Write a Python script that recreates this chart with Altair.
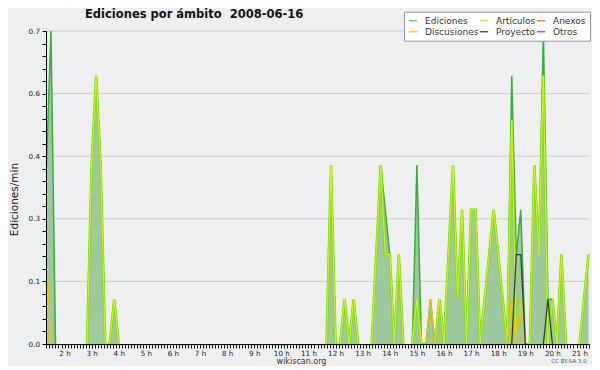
import altair as alt
import pandas as pd
import numpy as np

TITLE = "Ediciones por ámbito\u00a0 2008-06-16"
Y_TITLE = "Ediciones/min"
X_TITLE = "wikiscan.org"
LICENSE = "CC BY-SA 3.0"

SERIES = ["Ediciones", "Artículos", "Anexos", "Discusiones", "Proyecto", "Otros"]
LEGEND_COLORS = ["#7acc7a", "#c8ec3c", "#f08050", "#ffcc33", "#555555", "#9955ee"]

# 10-minute samples from 01:20 to 21:20 (edits per minute)
START_MIN = 80
STEP_MIN = 10

ediciones = [
    0.4, 0.7, 0, 0, 0, 0, 0, 0, 0, 0,
    0.4, 0.6, 0.4, 0, 0, 0.1, 0, 0, 0, 0,
    0, 0, 0, 0, 0, 0, 0, 0, 0, 0,
    0, 0, 0, 0, 0, 0, 0, 0, 0, 0,
    0, 0, 0, 0, 0, 0, 0, 0, 0, 0,
    0, 0, 0, 0, 0, 0, 0, 0, 0, 0,
    0, 0, 0, 0.4, 0, 0, 0.1, 0, 0.1, 0,
    0, 0, 0, 0.2, 0.4, 0.3, 0.2, 0, 0.2, 0,
    0, 0, 0.4, 0, 0, 0.1, 0, 0.1, 0, 0.2,
    0.4, 0.1, 0.3, 0, 0.3, 0.3, 0, 0.1, 0.2, 0.3,
    0.2, 0.1, 0, 0.6, 0.2, 0.3, 0, 0, 0.4, 0.2,
    0.7, 0.1, 0.1, 0, 0.2, 0, 0, 0, 0, 0.1,
    0.2,
]
articulos = [
    0, 0, 0, 0, 0, 0, 0, 0, 0, 0,
    0.4, 0.6, 0.4, 0, 0, 0.1, 0, 0, 0, 0,
    0, 0, 0, 0, 0, 0, 0, 0, 0, 0,
    0, 0, 0, 0, 0, 0, 0, 0, 0, 0,
    0, 0, 0, 0, 0, 0, 0, 0, 0, 0,
    0, 0, 0, 0, 0, 0, 0, 0, 0, 0,
    0, 0, 0, 0.4, 0, 0, 0.1, 0, 0.1, 0,
    0, 0, 0, 0.2, 0.4, 0.2, 0.2, 0, 0.2, 0,
    0, 0, 0.1, 0, 0, 0, 0, 0.1, 0, 0.2,
    0.4, 0.1, 0.3, 0, 0.3, 0.3, 0, 0.1, 0.2, 0.3,
    0.2, 0.1, 0, 0.5, 0, 0, 0, 0, 0.4, 0.2,
    0.6, 0, 0.1, 0, 0.2, 0, 0, 0, 0, 0.1,
    0.2,
]
discusiones = [
    0.2, 0, 0, 0, 0, 0, 0, 0, 0, 0,
    0, 0, 0, 0, 0, 0, 0, 0, 0, 0,
    0, 0, 0, 0, 0, 0, 0, 0, 0, 0,
    0, 0, 0, 0, 0, 0, 0, 0, 0, 0,
    0, 0, 0, 0, 0, 0, 0, 0, 0, 0,
    0, 0, 0, 0, 0, 0, 0, 0, 0, 0,
    0, 0, 0, 0, 0, 0, 0, 0, 0, 0,
    0, 0, 0, 0, 0, 0, 0, 0, 0, 0,
    0, 0, 0, 0, 0, 0.1, 0, 0, 0, 0,
    0, 0, 0, 0, 0, 0, 0, 0, 0, 0,
    0, 0, 0, 0.1, 0, 0.1, 0, 0, 0, 0,
    0, 0, 0, 0, 0, 0, 0, 0, 0, 0,
    0,
]
proyecto = [
    0, 0, 0, 0, 0, 0, 0, 0, 0, 0,
    0, 0, 0, 0, 0, 0, 0, 0, 0, 0,
    0, 0, 0, 0, 0, 0, 0, 0, 0, 0,
    0, 0, 0, 0, 0, 0, 0, 0, 0, 0,
    0, 0, 0, 0, 0, 0, 0, 0, 0, 0,
    0, 0, 0, 0, 0, 0, 0, 0, 0, 0,
    0, 0, 0, 0, 0, 0, 0, 0, 0, 0,
    0, 0, 0, 0, 0, 0, 0, 0, 0, 0,
    0, 0, 0, 0, 0, 0, 0, 0, 0, 0,
    0, 0, 0, 0, 0, 0, 0, 0, 0, 0,
    0, 0, 0, 0, 0.2, 0.2, 0, 0, 0, 0,
    0, 0.1, 0, 0, 0, 0, 0, 0, 0, 0,
    0,
]

X_DOMAIN = [79, 1281]
Y_DOMAIN = [0, 0.7]

minutes = [START_MIN + STEP_MIN * i for i in range(len(ediciones))]


def broken(vals):
    """Keep a point only if it or a neighbour is non-zero, so flat zero runs are not stroked."""
    out = []
    n = len(vals)
    for i, v in enumerate(vals):
        prev_v = vals[i - 1] if i > 0 else 0
        next_v = vals[i + 1] if i < n - 1 else 0
        out.append(v if (v > 0 or prev_v > 0 or next_v > 0) else np.nan)
    return out


df = pd.DataFrame({
    "t": minutes,
    "Ediciones": ediciones,
    "Artículos": articulos,
    "Discusiones": discusiones,
    "Proyecto": proyecto,
    "ed_line": broken(ediciones),
    "art_line": broken(articulos),
    "disc_line": broken(discusiones),
    "proy_line": broken(proyecto),
})

long_df = df.melt(id_vars=["t"], value_vars=["Ediciones", "Artículos", "Discusiones", "Proyecto"],
                  var_name="serie", value_name="v")

x_ticks = [i * 20 / 3 for i in range(12, 193)]
y_ticks = [round(0.028 * i, 3) for i in range(26)]
grid_vals = [v for v in y_ticks if round(v * 1000) % 140 == 0 and v > 0]

FONT = "DejaVu Sans"

x_axis = alt.Axis(
    values=x_ticks,
    labelExpr="(round(datum.value*3) % 180 == 0) ? (round(datum.value/60) + ' h') : ''",
    labelOverlap=False, labelFlush=False, labelBound=False,
    grid=False, tickSize=4, tickColor="#000", domainColor="#000",
    labelFont=FONT, labelFontSize=7.2, labelColor="#222", labelPadding=1,
    title=X_TITLE, titleFont=FONT, titleFontSize=8, titleFontWeight="normal",
    titleColor="#333", titleX=255, titleY=17, titleBaseline="middle", titleAlign="center",
    zindex=1,
)
y_axis = alt.Axis(
    values=y_ticks,
    labelExpr="(round(datum.value*1000) % 140 == 0) ? format(datum.value, '.1f') : ''",
    labelOverlap=False, labelFlush=False, labelBound=False,
    grid=False, tickSize=4, tickColor="#000", domainColor="#000",
    labelFont=FONT, labelFontSize=7.2, labelColor="#222", labelPadding=2.5,
    title=Y_TITLE, titleFont=FONT, titleFontSize=10.5, titleFontWeight="normal",
    titleColor="#222", titleX=-31.5, titleY=168, titleAngle=270,
    titleBaseline="middle", titleAlign="center",
    zindex=1,
)

x_scale = alt.Scale(domain=X_DOMAIN, nice=False, zero=False)
y_scale = alt.Scale(domain=Y_DOMAIN, nice=False)


def X():
    return alt.X("t:Q", scale=x_scale, axis=x_axis)


def Y(field):
    return alt.Y(f"{field}:Q", scale=y_scale, axis=y_axis)


base = alt.Chart(df)

grid = alt.Chart(pd.DataFrame({"g": grid_vals})).mark_rule(
    color="#cdcdcd", strokeWidth=1
).encode(y=alt.Y("g:Q", scale=y_scale, axis=y_axis))

fill = base.mark_area(color="#9ec89e", opacity=1, interpolate="linear").encode(
    x=X(), y=Y("Ediciones")
)

ed_line = base.mark_line(color="#3aae3a", strokeWidth=1.5,
                         invalid="break-paths-filter-domains").encode(x=X(), y=Y("ed_line"))
art_outer = base.mark_line(color="#86d916", strokeWidth=2.6,
                           invalid="break-paths-filter-domains").encode(x=X(), y=Y("art_line"))
art_inner = base.mark_line(color="#d4f51e", strokeWidth=1,
                           invalid="break-paths-filter-domains").encode(x=X(), y=Y("art_line"))
disc_line = base.mark_line(color="#f2c200", strokeWidth=1.4,
                           invalid="break-paths-filter-domains").encode(x=X(), y=Y("disc_line"))
proy_line = base.mark_line(color="#333333", strokeWidth=1.2,
                           invalid="break-paths-filter-domains").encode(x=X(), y=Y("proy_line"))

legend_layer = alt.Chart(long_df).mark_line(opacity=0).encode(
    x=X(),
    y=Y("v"),
    color=alt.Color(
        "serie:N",
        scale=alt.Scale(domain=SERIES, range=LEGEND_COLORS),
        legend=alt.Legend(
            title=None, orient="none", legendX=358, legendY=-19.3,
            direction="horizontal", columns=3, padding=4,
            fillColor="#ffffff", strokeColor="#999999",
            labelFont=FONT, labelFontSize=9, labelColor="#333",
            symbolType="stroke", symbolSize=70, symbolStrokeWidth=1.5,
            symbolOpacity=1, labelOffset=7, columnPadding=-3.5, rowPadding=1,
            zindex=1,
        ),
    ),
)

title_text = alt.Chart(pd.DataFrame({"txt": [TITLE]})).mark_text(
    font=FONT, fontSize=11.5, fontWeight="bold", color="#111", align="left", baseline="alphabetic"
).encode(text="txt:N", x=alt.value(39), y=alt.value(-12.7))

license_text = alt.Chart(pd.DataFrame({"txt": [LICENSE]})).mark_text(
    font=FONT, fontSize=5.5, color="#555", align="center", baseline="middle"
).encode(text="txt:N", x=alt.value(523), y=alt.value(330))

chart = alt.layer(
    grid, fill, ed_line, art_outer, art_inner, disc_line, proy_line, legend_layer,
    title_text, license_text
).properties(
    width=543,
    height=313,
    padding={"left": 38, "top": 23, "right": 3, "bottom": 22},
    autosize=alt.AutoSizeParams(type="none"),
    background="#eeeff1",
).configure_view(stroke=None)

chart.save("out.html", embed_options={"renderer": "svg", "actions": False})
